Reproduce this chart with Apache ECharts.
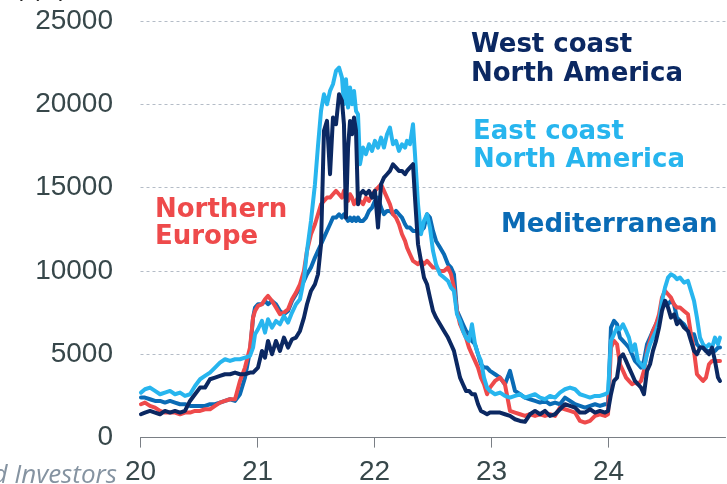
<!DOCTYPE html>
<html>
<head>
<meta charset="utf-8">
<script src="https://cdn.jsdelivr.net/npm/echarts@6/dist/echarts.min.js"></script>
<style>
  html, body { margin: 0; padding: 0; background: #ffffff; }
  #chart { width: 727px; height: 484px; }
</style>
</head>
<body>
<div id="chart"></div>
<script>
// Weekly container freight rates by route, 2020-2024 (decimal year, 20 = 2020)
const dates = [
  20.004,20.038,20.081,20.124,20.167,20.209,20.252,20.295,20.338,20.380,
  20.423,20.466,20.509,20.551,20.594,20.637,20.679,20.722,20.765,20.808,
  20.850,20.893,20.936,20.962,20.979,21.004,21.038,21.064,21.090,21.124,
  21.158,21.192,21.226,21.261,21.295,21.329,21.363,21.397,21.423,21.457,
  21.491,21.517,21.543,21.568,21.594,21.620,21.645,21.671,21.697,21.722,
  21.739,21.756,21.774,21.791,21.808,21.825,21.842,21.859,21.876,21.902,
  21.927,21.953,21.979,22.004,22.030,22.056,22.081,22.107,22.132,22.158,
  22.184,22.209,22.235,22.261,22.278,22.303,22.329,22.346,22.372,22.397,
  22.423,22.449,22.474,22.500,22.526,22.560,22.594,22.628,22.654,22.679,
  22.705,22.731,22.756,22.782,22.808,22.833,22.859,22.885,22.910,22.936,
  22.962,22.987,23.030,23.073,23.115,23.158,23.201,23.244,23.286,23.329,
  23.372,23.415,23.457,23.500,23.543,23.585,23.628,23.671,23.714,23.756,
  23.799,23.842,23.885,23.927,23.970,23.996,24.021,24.047,24.073,24.098,
  24.124,24.150,24.175,24.201,24.226,24.252,24.278,24.303,24.329,24.355,
  24.380,24.406,24.432,24.457,24.483,24.509,24.534,24.560,24.585,24.611,
  24.645,24.679,24.705,24.731,24.756,24.782,24.808,24.833,24.859,24.885,
  24.910,24.936,24.953
];

const westCoast = [
  1400,1500,1600,1500,1400,1600,1500,1600,1500,1600,
  2200,2600,3000,3000,3500,3600,3700,3800,3800,3900,
  3800,3800,3900,3900,4000,4200,5200,4800,5800,5000,
  5800,5200,6000,5400,5900,6000,6400,7200,8000,8800,
  9200,9800,11600,18400,19000,15800,19200,18800,20600,20200,
  18800,13200,17400,19000,18200,19200,18400,14000,14600,14800,
  14600,14800,14400,14800,12600,15200,15600,15800,16000,16400,
  16200,16000,16000,15800,16000,16200,16400,14400,11600,10600,
  9600,9200,8400,7600,7200,6800,6400,6000,5600,5200,
  4400,3600,3200,2800,2800,2600,2600,2000,1600,1500,
  1400,1500,1500,1500,1400,1300,1100,1000,950,1400,
  1600,1400,1600,1300,1400,1700,2000,1900,1800,1500,
  1500,1700,1500,1600,1500,1600,2600,3400,3600,4800,
  5000,4600,4200,3800,3400,3200,3000,2600,4000,4400,
  5200,5800,6600,7600,8200,7800,7200,7400,6800,7000,
  6600,6400,5800,5200,5000,5400,5400,5200,5000,5400,
  4600,3600,3400
];

const eastCoast = [
  2700,2900,3000,2800,2600,2700,2800,2600,2700,2500,
  2600,3100,3500,3700,3900,4200,4500,4700,4600,4700,
  4700,4800,4900,5400,6200,6500,7000,6300,7100,6600,
  7000,6800,7300,6900,7500,8000,8300,9500,11200,13000,
  15200,17500,19600,20600,20000,20800,21200,22000,22200,21600,
  20000,21500,19800,21000,20000,20800,19600,19400,16400,17400,
  17000,17600,17200,17800,17400,18000,17400,18200,18600,17600,
  17800,17200,17600,17400,17800,17600,18800,17000,14000,12200,
  13000,13400,12600,11200,10400,9800,9600,9400,9000,8800,
  7400,7000,6400,6000,5800,6800,5600,5000,4600,3600,
  3000,2800,2600,2700,2500,2400,2500,2600,2400,2500,
  2600,2400,2300,2500,2400,2700,2900,3000,2900,2600,
  2500,2400,2500,2500,2600,2700,5800,6200,6600,6500,
  6800,6400,6000,5200,5600,4600,4400,4200,5000,5600,
  6000,6400,7000,8200,9000,9600,9800,9700,9500,9600,
  9300,9400,8800,8200,7200,6000,5600,5400,5600,5400,
  6000,5600,6000
];

const northernEurope = [
  2000,2100,1900,1800,1600,1500,1500,1500,1400,1500,
  1500,1600,1600,1700,1700,1900,2100,2200,2300,2300,
  3400,4200,5400,7200,7600,7900,8000,8300,8500,8200,
  7800,7400,7500,7700,8300,8700,9200,10000,11200,12200,
  12800,13400,14000,14200,14400,14400,14600,14800,14600,14400,
  14800,14400,14200,14600,14400,14000,14200,14400,14200,14000,
  14400,14200,14600,14800,15000,15200,14800,14400,14000,13400,
  13200,12800,12200,11800,11400,11000,10600,10600,10400,10600,
  10400,10600,10400,10200,10200,10000,10000,10200,9800,9000,
  7600,6800,6400,6000,5400,5000,4600,4200,3600,3200,
  2600,3000,3400,3600,3200,1600,1500,1400,1300,1400,
  1300,1400,1300,1400,1300,1800,1700,1600,1500,1000,
  900,1000,1300,1400,1300,1400,5400,5800,5600,4400,
  4000,3600,3400,3200,3300,3200,3400,4000,5200,5800,
  6400,6800,7400,8400,8800,8600,8400,8000,7800,7800,
  7600,7400,6200,5200,3800,3600,3400,3600,4400,4600,
  4600,4600,4600
];

const mediterranean = [
  2400,2400,2300,2200,2200,2100,2200,2100,2000,2000,
  1900,1900,1900,1900,2000,2000,2100,2200,2300,2200,
  2600,3600,5200,7200,7800,8000,8000,8200,8000,8200,
  8000,7600,7400,7600,8200,8600,9000,9400,9800,10200,
  10800,11200,11600,12000,12400,12800,13200,13200,13400,13200,
  13400,13200,13000,13200,13000,13200,13000,13200,13000,13000,
  13200,13600,13800,14200,14400,13800,13400,13600,13600,13400,
  13600,13400,13200,12800,12600,12600,12400,12400,12400,12400,
  12600,13400,13200,12400,11800,11400,11000,10400,10200,9800,
  7600,7200,6800,6400,6200,5800,5600,5000,4400,4200,
  4200,4000,3800,3600,3200,4000,2800,2600,2400,2300,
  2200,2100,2200,2000,2100,2000,2400,2200,2000,1900,
  1800,1900,2000,1900,2000,2000,6600,7000,6800,6000,
  5800,5600,5400,5000,4600,4400,4200,4600,5600,6000,
  6400,6800,7200,7800,8200,8000,8200,8000,7200,7000,
  6800,6400,6200,6200,5600,5400,5400,5200,5200,5200,
  5200,5400,5400
];

const yearTicks = ['20', '21', '22', '23', '24'];

const colors = {
  west: '#0b2862',
  east: '#27b5ee',
  north: '#ee4a4b',
  med: '#0a6bb5'
};

function pairs(values) {
  return values.map((v, i) => [dates[i], v]);
}

function lineSeries(name, values, color, z) {
  return {
    name: name,
    type: 'line',
    data: pairs(values),
    showSymbol: false,
    symbol: 'none',
    smooth: false,
    z: z,
    lineStyle: { color: color, width: 4, join: 'round', cap: 'round' },
    emphasis: { disabled: true }
  };
}

const labelFont = '"Liberation Sans", Arial, sans-serif';
const routeFont = '"DejaVu Sans", Verdana, sans-serif';

const chart = echarts.init(document.getElementById('chart'), null, { renderer: 'canvas' });

chart.setOption({
  animation: false,
  backgroundColor: '#ffffff',
  grid: {
    left: 140.5, right: 1.5, top: 20.9, bottom: 46.4,
    containLabel: false,
    outerBoundsMode: 'none'
  },
  xAxis: {
    type: 'value',
    min: 20,
    max: 25,
    interval: 1,
    axisLine: { show: true, lineStyle: { color: '#7a7f85', width: 1 } },
    axisTick: { show: true, length: 10, lineStyle: { color: '#7a7f85', width: 1 } },
    splitLine: { show: false },
    axisLabel: {
      margin: 21,
      fontFamily: labelFont,
      fontSize: 28,
      color: '#37474a',
      showMaxLabel: false,
      hideOverlap: false,
      formatter: function (v) {
        const idx = Math.round(v) - 20;
        return yearTicks[idx] !== undefined ? yearTicks[idx] : '';
      }
    }
  },
  yAxis: {
    type: 'value',
    min: 0,
    max: 25000,
    interval: 5000,
    axisLine: { show: false },
    axisTick: { show: false },
    splitLine: { show: true, lineStyle: { color: '#b4bcc7', width: 1, type: [3, 3] } },
    axisLabel: {
      margin: 27.5,
      fontFamily: labelFont,
      fontSize: 28,
      color: '#37474a',
      formatter: function (v) { return String(v); }
    }
  },
  series: [
    lineSeries('Mediterranean', mediterranean, colors.med, 2),
    lineSeries('Northern Europe', northernEurope, colors.north, 3),
    lineSeries('East coast North America', eastCoast, colors.east, 4),
    lineSeries('West coast North America', westCoast, colors.west, 5)
  ],
  graphic: [
    {
      type: 'text', z: 10,
      style: { x: 15, y: 1.5, text: '($), per 40ft container', font: '24px ' + labelFont, fill: '#222222', verticalAlign: 'bottom' }
    },
    {
      type: 'text', z: 10,
      style: { x: 117, y: 489, text: 'and Investors', font: 'italic 26px "Open Sans", Lato, sans-serif', fill: '#8593a1', align: 'right', verticalAlign: 'bottom' }
    },
    {
      type: 'text', z: 10,
      style: { x: 471, y: 31.3, text: 'West coast\nNorth America', font: 'bold 26px ' + routeFont, lineHeight: 28.5, fill: colors.west, verticalAlign: 'top' }
    },
    {
      type: 'text', z: 10,
      style: { x: 473, y: 118.3, text: 'East coast\nNorth America', font: 'bold 26px ' + routeFont, lineHeight: 28, fill: colors.east, verticalAlign: 'top' }
    },
    {
      type: 'text', z: 10,
      style: { x: 501, y: 211.3, text: 'Mediterranean', font: 'bold 26px ' + routeFont, lineHeight: 28, fill: colors.med, verticalAlign: 'top' }
    },
    {
      type: 'text', z: 10,
      style: { x: 155, y: 196.3, text: 'Northern\nEurope', font: 'bold 26px ' + routeFont, lineHeight: 27, fill: colors.north, verticalAlign: 'top' }
    }
  ]
});
</script>
</body>
</html>
